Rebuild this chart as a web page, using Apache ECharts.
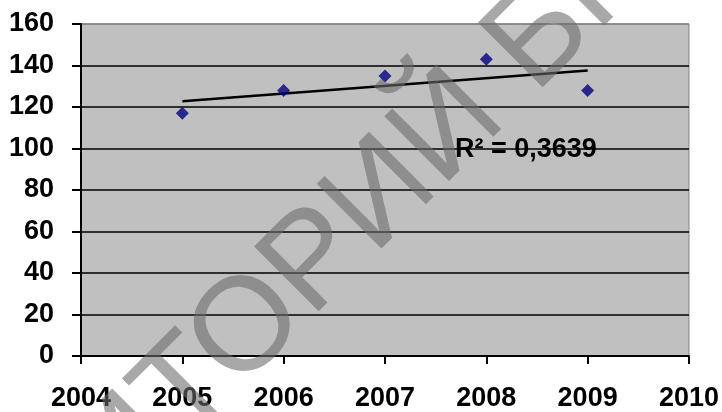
<!DOCTYPE html>
<html>
<head>
<meta charset="utf-8">
<script src="https://cdn.jsdelivr.net/npm/echarts@6/dist/echarts.min.js"></script>
<style>
  html, body { margin: 0; padding: 0; background: #ffffff; }
  #chart { width: 722px; height: 412px; }
</style>
</head>
<body>
<div id="chart"></div>
<script>
// Yearly observations
const years = [2005, 2006, 2007, 2008, 2009];
const values = [117, 128, 135, 143, 128];
// Axis ranges
const xRange = [2004, 2010];
const yRange = [0, 160];
const r2Text = 'R\u00B2 = 0,3639';
const watermarkText = 'РЕПОЗИТОРИЙ БГПУ';

// Least-squares linear trend over the observations
function linearFit(xs, ys) {
  const n = xs.length;
  const mx = xs.reduce((a, b) => a + b, 0) / n;
  const my = ys.reduce((a, b) => a + b, 0) / n;
  let sxy = 0, sxx = 0;
  for (let i = 0; i < n; i++) {
    sxy += (xs[i] - mx) * (ys[i] - my);
    sxx += (xs[i] - mx) * (xs[i] - mx);
  }
  const slope = sxy / sxx;
  return x => my + slope * (x - mx);
}
const fit = linearFit(years, values);
const trend = [years[0], years[years.length - 1]].map(x => [x, fit(x)]);

const font = "'Liberation Sans', Arial, sans-serif";
const chart = echarts.init(document.getElementById('chart'), null, { renderer: 'canvas' });

// Watermark geometry (rotated 45 degrees counter-clockwise)
const wmSize = 133;
const wmAngle = Math.PI / 4;

chart.setOption({
  animation: false,
  grid: {
    left: 81, right: 31, top: 24, bottom: 55,
    show: true,
    backgroundColor: '#c0c0c0',
    borderColor: '#808080',
    borderWidth: 1
  },
  xAxis: {
    type: 'value',
    min: xRange[0], max: xRange[1], interval: 1,
    axisLine: { show: true, lineStyle: { color: '#000', width: 2 } },
    axisTick: { show: true, length: 8, lineStyle: { color: '#000', width: 2 } },
    splitLine: { show: false },
    axisLabel: {
      margin: 29,
      color: '#000',
      fontFamily: font,
      fontWeight: 'bold',
      fontSize: 27,
      formatter: v => String(v)
    }
  },
  yAxis: {
    type: 'value',
    min: yRange[0], max: yRange[1], interval: 20,
    axisLine: { show: true, lineStyle: { color: '#000', width: 2 } },
    axisTick: { show: true, length: 9, lineStyle: { color: '#000', width: 2 } },
    splitLine: {
      show: true,
      lineStyle: {
        color: ['#000', '#000', '#000', '#000', '#000', '#000', '#000', '#000', '#808080'],
        width: 1.6
      }
    },
    axisLabel: {
      margin: 27,
      color: '#000',
      fontFamily: font,
      fontWeight: 'bold',
      fontSize: 27
    }
  },
  series: [
    {
      type: 'line',
      data: trend,
      symbol: 'none',
      lineStyle: { color: '#000', width: 2.5 },
      z: 3
    },
    {
      type: 'scatter',
      data: years.map((y, i) => [y, values[i]]),
      symbol: 'diamond',
      symbolSize: 13,
      itemStyle: { color: '#000080' },
      z: 4
    }
  ],
  graphic: [
    {
      type: 'text',
      left: 455,
      top: 136,
      z: 10,
      style: {
        text: r2Text,
        fill: '#000',
        font: 'bold 27px ' + font
      }
    },
    {
      type: 'text',
      x: -232,
      y: 810,
      rotation: wmAngle,
      z: 100,
      silent: true,
      style: {
        text: watermarkText,
        x: 0,
        y: 0,
        align: 'left',
        verticalAlign: 'middle',
        fill: 'rgba(107,107,107,0.59)',
        font: 'normal ' + wmSize + 'px ' + font
      }
    }
  ]
});
</script>
</body>
</html>
